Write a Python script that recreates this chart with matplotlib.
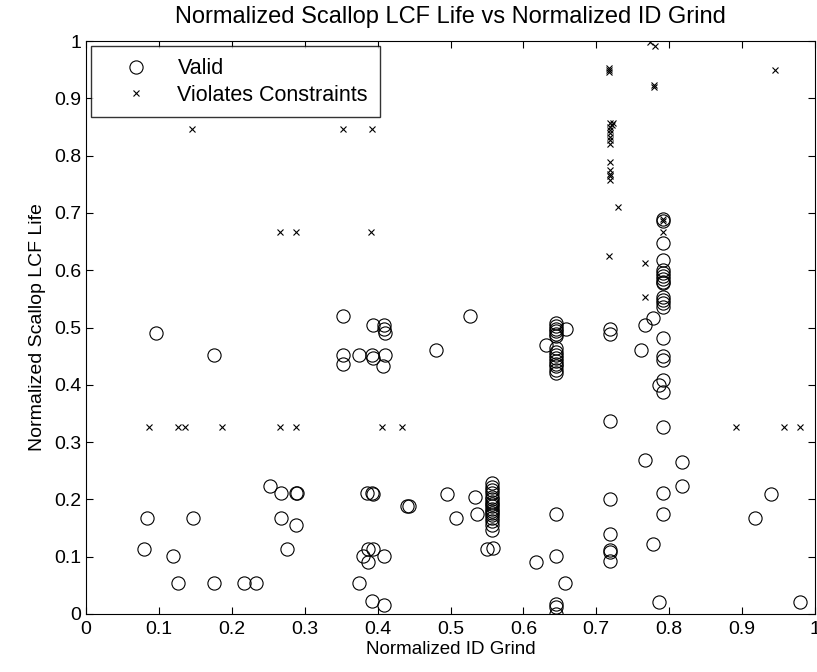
import matplotlib
matplotlib.use("Agg")
from matplotlib import pyplot as plt

# valid designs (normalized ID grind, normalized scallop LCF life)
valid_x = [0.096, 0.175, 0.252, 0.267, 0.288, 0.290, 0.083, 0.147, 0.268, 0.288,
           0.080, 0.119, 0.276, 0.126, 0.175, 0.217, 0.233,
           0.352, 0.394, 0.409, 0.409, 0.410, 0.527, 0.352, 0.352, 0.375, 0.392,
           0.394, 0.410, 0.407, 0.480, 0.385, 0.392, 0.394, 0.441, 0.443, 0.495,
           0.508, 0.534, 0.536,
           0.557, 0.557, 0.557, 0.557, 0.557, 0.557, 0.557, 0.557, 0.557, 0.557,
           0.557, 0.557, 0.557, 0.557, 0.557, 0.557, 0.557,
           0.550, 0.558, 0.387, 0.394, 0.380, 0.387, 0.409, 0.375, 0.393, 0.409,
           0.645, 0.645, 0.645, 0.645, 0.645, 0.645, 0.645, 0.645, 0.645, 0.645,
           0.645, 0.645, 0.645, 0.645, 0.645,
           0.631, 0.659, 0.645, 0.617, 0.645, 0.657, 0.645, 0.645, 0.645,
           0.719, 0.719, 0.719, 0.719, 0.719, 0.719, 0.719, 0.719,
           0.767, 0.778, 0.762,
           0.791, 0.791, 0.791, 0.791, 0.791, 0.791, 0.791, 0.791, 0.791, 0.791,
           0.791, 0.791, 0.791, 0.791, 0.791, 0.791, 0.791, 0.791, 0.786, 0.791,
           0.791, 0.767, 0.818, 0.818, 0.791, 0.791, 0.778, 0.786,
           0.939, 0.918, 0.979]
valid_y = [0.490, 0.452, 0.224, 0.212, 0.212, 0.212, 0.168, 0.168, 0.168, 0.156,
           0.113, 0.101, 0.113, 0.054, 0.054, 0.054, 0.054,
           0.520, 0.505, 0.505, 0.497, 0.490, 0.520, 0.452, 0.437, 0.452, 0.452,
           0.446, 0.452, 0.432, 0.461, 0.212, 0.212, 0.210, 0.189, 0.189, 0.209,
           0.168, 0.204, 0.175,
           0.228, 0.222, 0.216, 0.212, 0.205, 0.200, 0.196, 0.192, 0.188, 0.184,
           0.180, 0.176, 0.172, 0.168, 0.162, 0.155, 0.147,
           0.113, 0.116, 0.113, 0.113, 0.101, 0.090, 0.101, 0.054, 0.022, 0.016,
           0.507, 0.503, 0.498, 0.494, 0.489, 0.485, 0.464, 0.458, 0.452, 0.447,
           0.442, 0.437, 0.432, 0.426, 0.420,
           0.469, 0.497, 0.175, 0.090, 0.101, 0.054, 0.017, 0.013, 0.000,
           0.497, 0.489, 0.336, 0.201, 0.139, 0.112, 0.108, 0.093,
           0.505, 0.516, 0.461,
           0.690, 0.686, 0.647, 0.618, 0.600, 0.595, 0.590, 0.585, 0.580, 0.577,
           0.554, 0.548, 0.542, 0.536, 0.481, 0.450, 0.444, 0.408, 0.400, 0.388,
           0.327, 0.268, 0.265, 0.224, 0.212, 0.175, 0.122, 0.021,
           0.209, 0.168, 0.021]

# designs that violate constraints
viol_x = [0.145, 0.266, 0.288, 0.352, 0.393, 0.391,
          0.087, 0.126, 0.136, 0.186, 0.266, 0.288, 0.406, 0.433,
          0.892, 0.957, 0.979,
          0.774, 0.780, 0.718, 0.718, 0.718, 0.945, 0.779, 0.779,
          0.719, 0.723, 0.721, 0.719, 0.719, 0.719, 0.719, 0.719, 0.719,
          0.719, 0.719, 0.719, 0.719, 0.719,
          0.730, 0.718, 0.791, 0.791, 0.791, 0.767, 0.767]
viol_y = [0.847, 0.666, 0.666, 0.847, 0.847, 0.666,
          0.326, 0.326, 0.326, 0.326, 0.326, 0.326, 0.326, 0.326,
          0.326, 0.326, 0.326,
          0.999, 0.991, 0.953, 0.949, 0.946, 0.949, 0.923, 0.920,
          0.857, 0.857, 0.853, 0.850, 0.845, 0.839, 0.833, 0.827, 0.821,
          0.789, 0.775, 0.768, 0.764, 0.757,
          0.711, 0.625, 0.690, 0.685, 0.667, 0.613, 0.554]

tick_labels = ['0', '0.1', '0.2', '0.3', '0.4', '0.5', '0.6', '0.7', '0.8', '0.9', '1']

plt.rcParams['font.family'] = ['Liberation Sans', 'DejaVu Sans']
plt.rcParams['font.size'] = 13

fig = plt.figure(figsize=(8.17, 6.72), dpi=100)
ax = fig.add_axes([86 / 817, 58 / 672, 729 / 817, 573 / 672])

ax.plot(valid_x, valid_y, 'o', mfc='none', mec='black', ms=9.5, mew=0.8,
        label='Valid')
ax.plot(viol_x, viol_y, 'x', color='black', ms=5, mew=0.8,
        label='Violates Constraints')

ax.set_xlim(0, 1)
ax.set_ylim(0, 1)
ax.set_xticks([i / 10 for i in range(11)])
ax.set_yticks([i / 10 for i in range(11)])
ax.set_xticklabels(tick_labels)
ax.set_yticklabels(tick_labels)
ax.tick_params(direction='in', top=True, right=True, length=5, width=0.8,
               labelsize=14)
ax.tick_params(axis='x', pad=5)
for s in ax.spines.values():
    s.set_linewidth(0.8)

ax.set_xlabel("Normalized ID Grind", fontsize=13.5, labelpad=2)
ax.set_ylabel("Normalized Scallop LCF Life", fontsize=14, labelpad=6)
ax.set_title("Normalized Scallop LCF Life vs Normalized ID Grind", fontsize=17, pad=13)

leg = ax.legend(loc='upper left', fancybox=False, edgecolor='black', fontsize=15.5,
                borderaxespad=0.25, handletextpad=0.45, handlelength=3.0,
                borderpad=0.55, labelspacing=0.25)
leg.get_frame().set_linewidth(1.0)

fig.savefig('out.png', dpi=100)
